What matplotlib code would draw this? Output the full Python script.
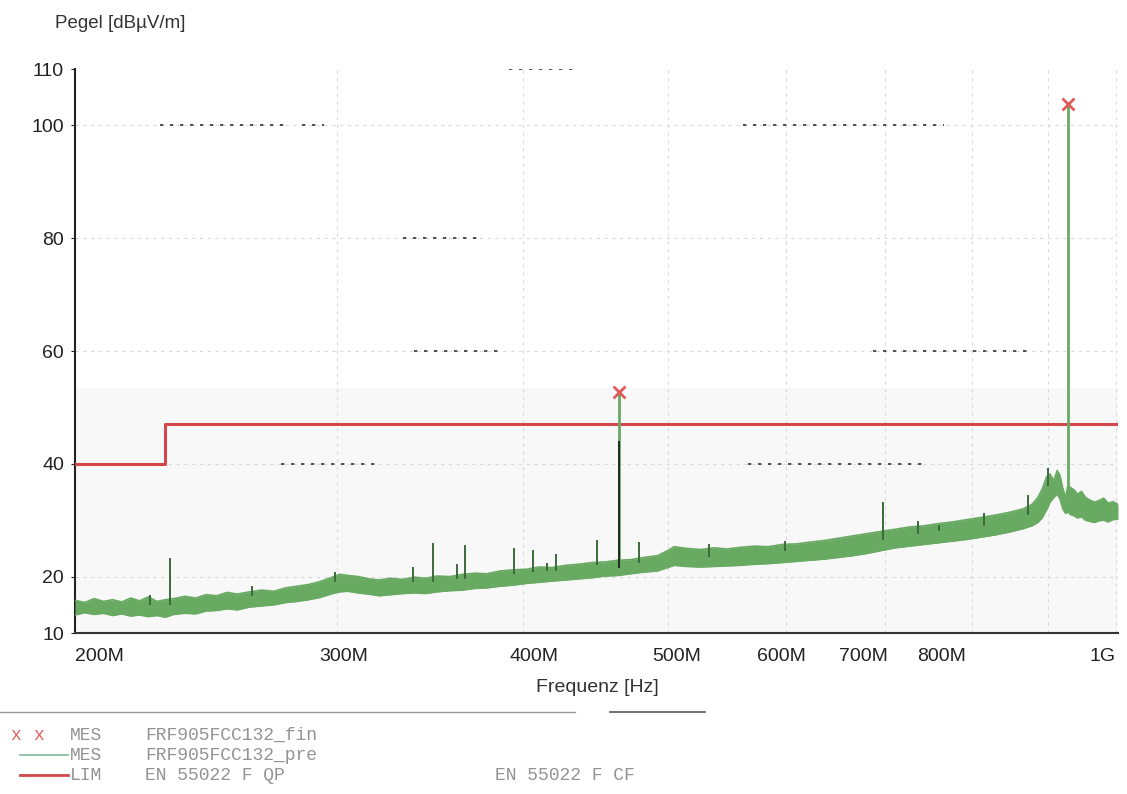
import numpy as np
import matplotlib

matplotlib.use("Agg")
import matplotlib.pyplot as plt  # noqa: E402
from matplotlib.lines import Line2D  # noqa: E402
from matplotlib.transforms import ScaledTranslation  # noqa: E402

plt.rcParams["font.family"] = ["Liberation Sans", "DejaVu Sans"]

# --- pre-scan noise band (MHz, lower / upper edge in dBuV/m) ---
band_freq = [200, 203, 206, 209, 212, 215, 218, 221, 224, 227,
             230, 233, 237, 241, 245, 249, 253, 257, 262, 267,
             272, 277, 282, 287, 292, 297, 301, 305, 310, 315,
             320, 326, 332, 338, 344, 350, 357, 364, 371, 378,
             386, 394, 402, 410, 418, 427, 436, 445, 454, 463,
             472, 482, 492, 500, 505, 515, 526, 537, 548, 560,
             572, 584, 597, 610, 623, 637, 651, 665, 680, 695,
             711, 727, 743, 760, 777, 794, 812, 830, 848, 866,
             878, 886, 892, 898, 903, 908, 913, 917, 921, 925,
             928, 932, 937, 942, 948, 954, 960, 967, 974, 981,
             988, 995, 1003]
band_low = [13.2, 13.6, 13.3, 13.5, 13.1, 13.4, 13.0, 13.2, 12.9, 13.1,
            12.8, 13.3, 13.5, 13.4, 13.9, 14.0, 14.3, 14.1, 14.6, 14.8,
            15.0, 15.4, 15.6, 15.9, 16.3, 16.9, 17.3, 17.4, 17.1, 16.9,
            16.6, 16.8, 17.0, 17.1, 17.0, 17.3, 17.5, 17.6, 17.9, 18.0,
            18.3, 18.5, 18.8, 19.0, 19.2, 19.4, 19.6, 19.8, 20.1, 20.2,
            20.5, 20.8, 21.0, 21.6, 22.0, 21.8, 21.7, 21.8, 21.9, 22.0,
            22.2, 22.3, 22.5, 22.7, 22.9, 23.1, 23.4, 23.7, 24.1, 24.6,
            25.1, 25.4, 25.7, 26.0, 26.3, 26.6, 27.0, 27.4, 27.9, 28.5,
            29.0, 29.6, 30.4, 31.8, 33.2, 34.0, 34.6, 33.8, 32.0, 31.2,
            31.5, 31.0, 30.8, 30.4, 30.6, 30.0, 29.8, 29.6, 29.9, 30.0,
            29.7, 30.1, 30.2]
band_high = [15.8, 15.4, 16.1, 15.6, 15.9, 15.5, 16.2, 15.7, 16.4, 15.6,
             15.9, 16.1, 16.5, 16.2, 16.8, 16.6, 17.2, 16.9, 17.3, 17.6,
             17.4, 18.0, 18.3, 18.6, 19.1, 19.8, 20.4, 20.2, 20.0, 19.6,
             19.4, 19.7, 19.5, 19.9, 19.7, 20.1, 20.0, 20.4, 20.6, 20.5,
             21.0, 21.2, 21.3, 21.7, 21.6, 22.0, 22.2, 22.5, 22.6, 22.9,
             23.0, 23.4, 23.7, 24.6, 25.3, 25.0, 24.8, 25.1, 24.9, 25.2,
             25.4, 25.3, 25.7, 25.8, 26.1, 26.4, 26.8, 27.2, 27.6, 28.0,
             28.4, 28.8, 29.0, 29.4, 29.7, 30.1, 30.5, 30.9, 31.4, 32.0,
             32.8, 34.0, 35.5, 37.6, 38.2, 37.0, 38.8, 37.9, 35.6, 34.0,
             36.0, 35.8, 35.4, 34.6, 35.1, 34.0, 33.6, 33.2, 33.5, 33.9,
             33.0, 33.3, 32.8]

# narrow spurs on top of the band
spike_freq = [224.6, 231.5, 263, 299, 337, 347.6, 361, 365.6, 394, 406,
              415, 421, 448, 478, 533, 599, 697, 736, 760, 815, 873, 900]
spike_top = [16.8, 23.3, 18.3, 20.8, 21.7, 26.0, 22.3, 25.6, 25.0, 24.7,
             22.4, 24.0, 26.5, 26.1, 25.8, 26.3, 33.2, 29.8, 29.1, 31.3,
             34.5, 39.3]
spike_base = [15.0, 15.0, 16.5, 19.0, 19.0, 19.0, 19.5, 19.5, 20.5, 20.8,
              21.0, 21.0, 22.0, 22.5, 23.5, 24.5, 26.5, 27.5, 28.0, 29.0,
              31.0, 36.0]

# final measurement peaks (red x)
peak_freq = [463.5, 928]
peak_level = [52.7, 103.8]
peak_base = [21.5, 33.0]
peak_dark_top = [44.0, 33.0]

# EN 55022 class B quasi-peak limit
limit_freq = [200, 230, 1003]
limit_level = [40, 47, 47]

# darker remnants of the grid on the scan: (level, f_start, f_end)
grid_marks = [(110, 391, 433), (100, 228, 279), (100, 284, 294),
              (100, 562, 767), (80, 332, 374), (60, 338, 388),
              (60, 687, 878), (40, 275, 320), (40, 566, 742)]

yticks = [10, 20, 40, 60, 80, 100, 110]
xticks = [200, 300, 400, 500, 600, 700, 800, 900, 1000]
xtick_labels = ["200M", "300M", "400M", "500M", "600M", "700M", "800M", "", "1G"]
xtick_shift = [0, 6, 11, 9, -4, -22, -30, 0, 0]

GREEN = "#69aa63"
RED = "#d2474a"
W, H = 1127, 794

fig = plt.figure(figsize=(W / 100, H / 100), dpi=100)
ax = fig.add_axes([75 / W, 1 - 633 / H, (1118 - 75) / W, (633 - 69) / H])
ax.set_xscale("log")
ax.set_xlim(200, 1003)
ax.set_ylim(10, 110)

# faint grey field on the lower part of the scan
ax.axhspan(10, 53.5, color="#f8f8f8", zorder=0, lw=0)

for y in [20, 40, 60, 80, 100]:
    ax.axhline(y, color="#dadada", ls=(0, (3, 4)), lw=0.8, zorder=1)
for x in xticks[1:]:
    ax.axvline(x, color="#dadada", ls=(0, (3, 4)), lw=0.8, zorder=1)
for lvl, f0, f1 in grid_marks:
    ax.plot([f0, f1], [lvl, lvl], color="#333333", ls=(0, (2, 4)), lw=1.2,
            zorder=1)

# limit line
ax.plot(limit_freq, limit_level, drawstyle="steps-post", color=RED, lw=2.2,
        zorder=3)

# pre-scan trace
ax.fill_between(band_freq, band_low, band_high, color=GREEN, lw=0, zorder=4)
ax.plot(band_freq, band_high, color=GREEN, lw=1.2, zorder=4)
ax.plot(band_freq, band_low, color=GREEN, lw=1.2, zorder=4)
ax.vlines(spike_freq, spike_base, spike_top, color="#3c6a3c", lw=1.4,
          zorder=5)
ax.vlines(peak_freq, peak_base, peak_level, color=GREEN, lw=2.0, zorder=5)
ax.vlines(peak_freq, peak_base, peak_dark_top, color="#1e2e1e", lw=1.4,
          zorder=6)
ax.plot(peak_freq, peak_level, ls="none", marker="x", ms=8, mew=2,
        color="#e05a5a", zorder=7)

# axes styling
for side in ["top", "right"]:
    ax.spines[side].set_visible(False)
ax.spines["left"].set_color("#222222")
ax.spines["left"].set_linewidth(1.5)
ax.spines["bottom"].set_color("#333333")
ax.spines["bottom"].set_linewidth(1.5)

ax.set_yticks(yticks)
ax.set_yticklabels([str(v) for v in yticks])
ax.tick_params(axis="y", length=3, pad=5, labelsize=14, colors="#222222")
ax.set_xticks(xticks)
ax.set_xticks([], minor=True)
ax.set_xticklabels(xtick_labels)
ax.tick_params(axis="x", length=0, pad=11, labelsize=14, colors="#222222")
labels = ax.get_xticklabels()
for lab, dx in zip(labels, xtick_shift):
    lab.set_transform(lab.get_transform()
                      + ScaledTranslation(dx / 100, 0, fig.dpi_scale_trans))
labels[0].set_ha("left")
labels[-1].set_ha("right")

fig.text(55 / W, 1 - 23 / H, "Pegel [dB\u00b5V/m]", ha="left", va="center",
         fontsize=13.5, color="#333333")
fig.text(597 / W, 1 - 688 / H, "Frequenz [Hz]", ha="center", va="center",
         fontsize=14, color="#333333")

# legend block under the chart
fig.add_artist(Line2D([0, 575 / W], [1 - 712 / H] * 2, color="#9a9a9a",
                      lw=1.0))
fig.add_artist(Line2D([610 / W, 705 / W], [1 - 712 / H] * 2,
                      color="#555555", lw=1.2))
mono = dict(family="Liberation Mono", fontsize=13, color="#939393",
            va="center")
rows = [1 - 735 / H, 1 - 755 / H, 1 - 775 / H]
fig.text(10 / W, rows[0], "x", **{**mono, "color": "#e06060"})
fig.text(33 / W, rows[0], "x", **{**mono, "color": "#e06060"})
fig.add_artist(Line2D([20 / W, 68 / W], [rows[1]] * 2, color="#7fb89a",
                      lw=1.2))
fig.add_artist(Line2D([20 / W, 68 / W], [rows[2]] * 2, color=RED, lw=2.0))
for y, tag, name in zip(rows, ["MES", "MES", "LIM"],
                        ["FRF905FCC132_fin", "FRF905FCC132_pre",
                         "EN 55022 F QP"]):
    fig.text(70 / W, y, tag, **mono)
    fig.text(145 / W, y, name, **mono)
fig.text(495 / W, rows[2], "EN 55022 F CF", **mono)

fig.savefig("out.png", dpi=100)
